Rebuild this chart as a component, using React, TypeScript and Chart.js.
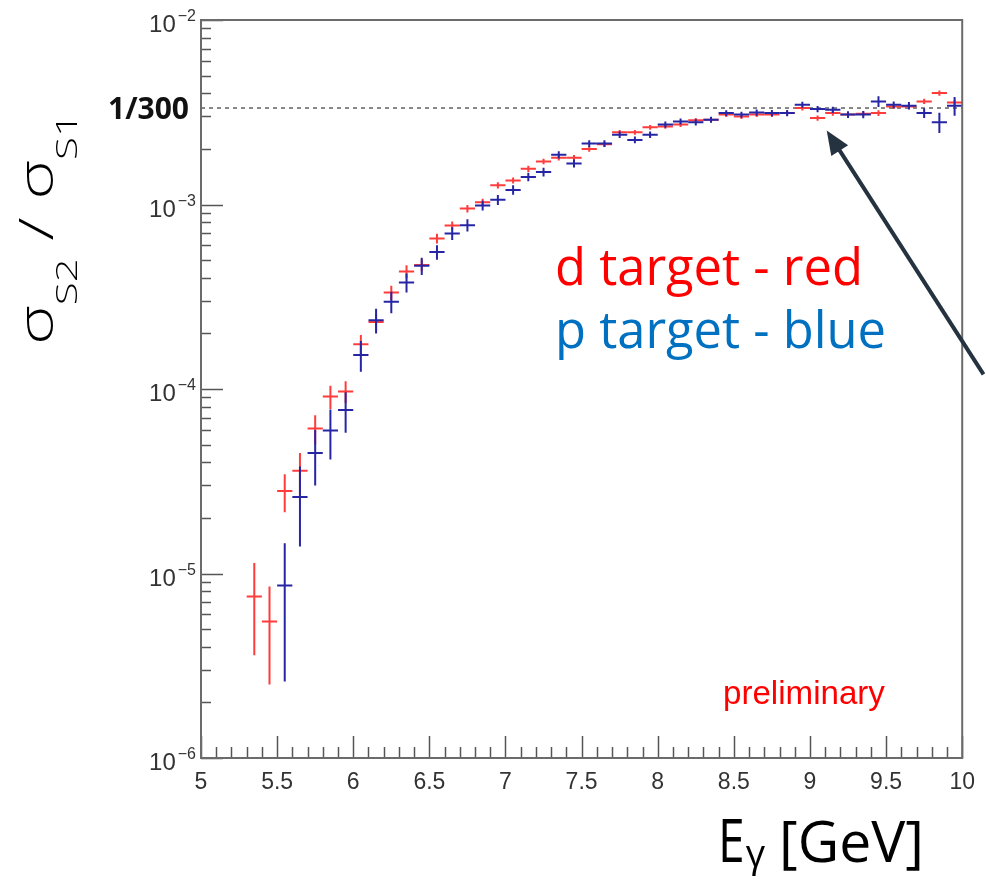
import React, { useEffect, useRef } from "react";
import { Chart, registerables } from "chart.js";

Chart.register(...registerables);

// ---------------- data ----------------
const binCenters = [
  5.35, 5.45, 5.55, 5.65, 5.75, 5.85, 5.95, 6.05, 6.15, 6.25, 6.35, 6.45, 6.55, 6.65, 6.75, 6.85,
  6.95, 7.05, 7.15, 7.25, 7.35, 7.45, 7.55, 7.65, 7.75, 7.85, 7.95, 8.05, 8.15, 8.25, 8.35, 8.45,
  8.55, 8.65, 8.75, 8.85, 8.95, 9.05, 9.15, 9.25, 9.35, 9.45, 9.55, 9.65, 9.75, 9.85, 9.95,
];
const binHalfWidth = 0.05;

const dTargetRatio = [
  7.5e-6, 5.5e-6, 2.8e-5, 3.6e-5, 6.1e-5, 9.1e-5, 9.7e-5, 1.75e-4, 2.31e-4, 3.33e-4, 4.33e-4, 4.7e-4,
  6.55e-4, 7.7e-4, 9.5e-4, 1.03e-3, 1.27e-3, 1.35e-3, 1.56e-3, 1.71e-3, 1.79e-3, 1.79e-3, 2.0e-3,
  2.12e-3, 2.46e-3, 2.46e-3, 2.62e-3, 2.65e-3, 2.71e-3, 2.86e-3, 2.88e-3, 3.07e-3, 3.0e-3, 3.07e-3,
  3.07e-3, 3.13e-3, 3.33e-3, 2.94e-3, 3.13e-3, 3.07e-3, 3.1e-3, 3.13e-3, 3.4e-3, 3.4e-3, 3.62e-3,
  4.02e-3, 3.57e-3,
];
const dTargetError = [
  3.9e-6, 3.0e-6, 6.5e-6, 9e-6, 1.1e-5, 1.3e-5, 1.3e-5, 2.1e-5, 2.5e-5, 3e-5, 3.5e-5, 3.5e-5, 4e-5,
  4e-5, 4.5e-5, 4.5e-5, 5e-5, 5e-5, 6e-5, 6e-5, 6e-5, 6.5e-5, 7e-5, 7e-5, 7.5e-5, 7.5e-5, 8e-5, 8e-5,
  8e-5, 8.5e-5, 8.5e-5, 9e-5, 9e-5, 9e-5, 9e-5, 9.5e-5, 1e-4, 1e-4, 1e-4, 1e-4, 1.05e-4, 1.1e-4,
  1.1e-4, 1.15e-4, 1.2e-4, 1.3e-4, 1.3e-4,
];
const pTargetRatio = [
  null, null, 8.6e-6, 2.6e-5, 4.5e-5, 5.95e-5, 7.7e-5, 1.53e-4, 2.36e-4, 2.97e-4, 3.78e-4, 4.65e-4,
  5.52e-4, 6.97e-4, 7.73e-4, 9.88e-4, 1.06e-3, 1.2e-3, 1.41e-3, 1.5e-3, 1.86e-3, 1.67e-3, 2.14e-3,
  2.14e-3, 2.39e-3, 2.24e-3, 2.39e-3, 2.71e-3, 2.82e-3, 2.79e-3, 2.88e-3, 3.13e-3, 3.07e-3, 3.15e-3,
  3.13e-3, 3.13e-3, 3.47e-3, 3.29e-3, 3.26e-3, 3.07e-3, 3.07e-3, 3.62e-3, 3.47e-3, 3.43e-3, 3.13e-3,
  2.79e-3, 3.43e-3,
];
const pTargetError = [
  null, null, 6e-6, 1.2e-5, 1.5e-5, 1.8e-5, 1.9e-5, 2.9e-5, 3.6e-5, 4e-5, 4.5e-5, 5e-5, 5e-5, 5.5e-5,
  6e-5, 6e-5, 6.5e-5, 7e-5, 7.5e-5, 8e-5, 8.5e-5, 8.5e-5, 9e-5, 9e-5, 9.5e-5, 9.5e-5, 1e-4, 1.05e-4,
  1.05e-4, 1.1e-4, 1.1e-4, 1.15e-4, 1.15e-4, 1.2e-4, 1.2e-4, 1.2e-4, 1.3e-4, 1.3e-4, 1.3e-4, 1.3e-4,
  1.4e-4, 2.4e-4, 1.5e-4, 1.6e-4, 1.9e-4, 3.5e-4, 4e-4,
];

const xMin = 5;
const xMax = 10;
const xMajorStep = 0.5;
const xMinorStep = 0.1;
const xTickLabels = ["5", "5.5", "6", "6.5", "7", "7.5", "8", "8.5", "9", "9.5", "10"];

const yMin = 1e-6;
const yMax = 1e-2;
const yDecadeValues = [1e-6, 1e-5, 1e-4, 1e-3, 1e-2];
const yDecadeExponents = ["\u22126", "\u22125", "\u22124", "\u22123", "\u22122"];
const yMinorMultipliers = [2, 3, 4, 5, 6, 7, 8, 9];

const refValue = 1 / 300;
const refLabel = "1/300";

const arrowTip = { x: 9.11, y: 2.52e-3 };
const arrowTail = { x: 10.14, y: 1.2e-4 };

const legendD = "d target - red";
const legendP = "p target - blue";
const prelimText = "preliminary";

const dColor = "rgb(255,60,60)";
const pColor = "rgb(38,38,165)";

// ---------------- helpers ----------------
function fitSize(ctx: CanvasRenderingContext2D, text: string, family: string, weight: string, target: number) {
  ctx.font = `${weight} 100px ${family}`;
  const w = ctx.measureText(text).width;
  return (100 * target) / w;
}

const decorPlugin = {
  id: "decor",
  beforeDatasetsDraw(chart: any) {
    const { ctx, chartArea, scales } = chart;
    const yPx = scales.y.getPixelForValue(refValue);
    ctx.save();
    ctx.strokeStyle = "#6a6a6a";
    ctx.lineWidth = 1.6;
    ctx.setLineDash([4, 4]);
    ctx.beginPath();
    ctx.moveTo(chartArea.left, yPx);
    ctx.lineTo(chartArea.right, yPx);
    ctx.stroke();
    ctx.restore();
  },
  afterDatasetDraw(chart: any, args: any) {
    const { ctx, scales, chartArea } = chart;
    const ds: any = chart.data.datasets[args.index];
    ctx.save();
    ctx.beginPath();
    ctx.rect(chartArea.left, chartArea.top, chartArea.right - chartArea.left, chartArea.bottom - chartArea.top);
    ctx.clip();
    ctx.strokeStyle = ds.borderColor;
    ctx.lineWidth = 2;
    args.meta.data.forEach((el: any, i: number) => {
      const raw = ds.data[i];
      const top = scales.y.getPixelForValue(raw.y + raw.err);
      const bot = scales.y.getPixelForValue(Math.max(raw.y - raw.err, yMin * 0.5));
      ctx.beginPath();
      ctx.moveTo(el.x, top);
      ctx.lineTo(el.x, bot);
      ctx.stroke();
    });
    ctx.restore();
  },
  afterDraw(chart: any) {
    const { ctx, chartArea, scales } = chart;
    const { left, right, top, bottom } = chartArea;
    const xs = scales.x;
    const ys = scales.y;
    ctx.save();

    // ticks
    ctx.strokeStyle = "#555";
    ctx.lineWidth = 1.5;
    const nX = Math.round((xMax - xMin) / xMinorStep);
    for (let k = 0; k <= nX; k++) {
      const v = xMin + k * xMinorStep;
      const px = Math.round(xs.getPixelForValue(v)) + 0.5;
      const major = Math.abs(v / xMajorStep - Math.round(v / xMajorStep)) < 1e-6;
      const len = major ? 22 : 11;
      ctx.beginPath();
      ctx.moveTo(px, bottom);
      ctx.lineTo(px, bottom - len);
      ctx.stroke();
    }
    yDecadeValues.forEach((dv, i) => {
      const py = Math.round(ys.getPixelForValue(dv)) + 0.5;
      ctx.beginPath();
      ctx.moveTo(left, py);
      ctx.lineTo(left + 22, py);
      ctx.stroke();
      if (i < yDecadeValues.length - 1) {
        yMinorMultipliers.forEach((m) => {
          const my = Math.round(ys.getPixelForValue(dv * m)) + 0.5;
          ctx.beginPath();
          ctx.moveTo(left, my);
          ctx.lineTo(left + 10, my);
          ctx.stroke();
        });
      }
    });

    // frame
    ctx.strokeStyle = "#6b6b6b";
    ctx.lineWidth = 2;
    ctx.strokeRect(left, top, right - left, bottom - top);

    // y decade labels
    ctx.fillStyle = "#333";
    ctx.textBaseline = "alphabetic";
    yDecadeValues.forEach((dv, i) => {
      const py = ys.getPixelForValue(dv);
      ctx.font = '16px "Liberation Sans"';
      const supW = ctx.measureText(yDecadeExponents[i]).width;
      ctx.font = '24px "Liberation Sans"';
      const baseW = ctx.measureText("10").width;
      const xEnd = left - 5;
      ctx.textAlign = "left";
      ctx.fillText("10", xEnd - supW - baseW - 2, py + 12);
      ctx.font = '16px "Liberation Sans"';
      ctx.fillText(yDecadeExponents[i], xEnd - supW, py + 1);
    });

    // 1/300 label
    const ry = ys.getPixelForValue(refValue);
    ctx.font = 'bold 30px "Open Sans"';
    ctx.fillStyle = "#111";
    ctx.textAlign = "right";
    ctx.fillText(refLabel, left - 12, ry + 11);

    // legend texts
    ctx.textAlign = "left";
    const legSize = fitSize(ctx, legendD, '"Open Sans"', "normal", 308);
    ctx.font = `${legSize}px "Open Sans"`;
    ctx.fillStyle = "#ff0000";
    ctx.fillText(legendD, 555, 285);
    ctx.fillStyle = "#0070c0";
    ctx.fillText(legendP, 555, 348);

    // preliminary
    const prSize = fitSize(ctx, prelimText, '"Liberation Sans"', "normal", 162);
    ctx.font = `${prSize}px "Liberation Sans"`;
    ctx.fillStyle = "#ff0000";
    ctx.fillText(prelimText, 723, 704);

    // arrow
    const tx = xs.getPixelForValue(arrowTip.x);
    const ty = ys.getPixelForValue(arrowTip.y);
    const sx = xs.getPixelForValue(arrowTail.x);
    const sy = ys.getPixelForValue(arrowTail.y);
    const dx = tx - sx;
    const dy = ty - sy;
    const L = Math.hypot(dx, dy);
    const ux = dx / L;
    const uy = dy / L;
    const headLen = 24;
    const headHalf = 10;
    const bx = tx - ux * headLen;
    const by = ty - uy * headLen;
    ctx.strokeStyle = "#253240";
    ctx.fillStyle = "#253240";
    ctx.lineWidth = 4;
    ctx.beginPath();
    ctx.moveTo(sx, sy);
    ctx.lineTo(bx + ux * 2, by + uy * 2);
    ctx.stroke();
    ctx.beginPath();
    ctx.moveTo(tx, ty);
    ctx.lineTo(bx - uy * headHalf, by + ux * headHalf);
    ctx.lineTo(bx + uy * headHalf, by - ux * headHalf);
    ctx.closePath();
    ctx.fill();

    // x title
    ctx.fillStyle = "#000";
    ctx.save();
    ctx.translate(718, 862);
    ctx.scale(0.8, 1);
    ctx.font = '60px "Open Sans"';
    ctx.fillText("E", 0, 0);
    const eW = ctx.measureText("E").width * 0.8;
    ctx.restore();
    ctx.font = '38px "Open Sans"';
    ctx.fillText("\u03b3", 718 + eW + 1, 867);
    const gSize = fitSize(ctx, "[GeV]", '"Open Sans"', "normal", 145);
    ctx.font = `${gSize}px "Open Sans"`;
    ctx.fillText("[GeV]", 779, 862);

    // y title (rotated)
    const F = 48;
    const parts = [
      { t: "\u03c3", sub: false },
      { t: "S2", sub: true },
      { t: " / ", sub: false },
      { t: "\u03c3", sub: false },
      { t: "S1", sub: true },
    ];
    const fontFor = (sub: boolean) => `300 ${sub ? F * 0.62 : F}px "Open Sans"`;
    let natural = 0;
    parts.forEach((p) => {
      ctx.font = fontFor(p.sub);
      natural += ctx.measureText(p.t).width;
    });
    const stretch = 232 / natural;
    ctx.save();
    ctx.translate(53, 345);
    ctx.rotate(-Math.PI / 2);
    ctx.scale(stretch, 1);
    let cx = 0;
    parts.forEach((p) => {
      ctx.font = fontFor(p.sub);
      ctx.fillText(p.t, cx, p.sub ? 24 : 0);
      cx += ctx.measureText(p.t).width;
    });
    ctx.restore();

    ctx.restore();
  },
};

function buildPoints(values: (number | null)[], errors: (number | null)[]) {
  const pts: { x: number; y: number; err: number }[] = [];
  binCenters.forEach((x, i) => {
    const v = values[i];
    const e = errors[i];
    if (v != null && e != null) pts.push({ x, y: v, err: e });
  });
  return pts;
}

export default function App() {
  const ref = useRef<HTMLCanvasElement | null>(null);
  useEffect(() => {
    if (!ref.current) return;
    const halfWidthPx = (ctx: any) => {
      const xs = ctx.chart.scales.x;
      if (!xs) return 7;
      return Math.abs(xs.getPixelForValue(xMin + binHalfWidth) - xs.getPixelForValue(xMin));
    };
    const chart = new Chart(ref.current, {
      type: "scatter",
      data: {
        datasets: [
          {
            label: "p target",
            data: buildPoints(pTargetRatio, pTargetError),
            borderColor: pColor,
            backgroundColor: pColor,
            pointStyle: "line",
            pointRadius: halfWidthPx,
            pointBorderWidth: 2,
            borderWidth: 2,
          } as any,
          {
            label: "d target",
            data: buildPoints(dTargetRatio, dTargetError),
            borderColor: dColor,
            backgroundColor: dColor,
            pointStyle: "line",
            pointRadius: halfWidthPx,
            pointBorderWidth: 2,
            borderWidth: 2,
          } as any,
        ],
      },
      options: {
        responsive: false,
        animation: false,
        devicePixelRatio: 1,
        events: [],
        layout: { padding: { top: 20, right: 16, left: 0, bottom: 0 } },
        plugins: { legend: { display: false }, tooltip: { enabled: false } },
        scales: {
          x: {
            type: "linear",
            min: xMin,
            max: xMax,
            grid: { display: false, drawTicks: false },
            border: { display: false },
            ticks: {
              stepSize: xMajorStep,
              autoSkip: false,
              maxRotation: 0,
              padding: 11,
              color: "#333",
              font: { family: "Liberation Sans", size: 23 },
              callback: (_v: any, i: number) => xTickLabels[i] ?? "",
            },
            afterFit: (s: any) => {
              s.height = 122;
            },
          },
          y: {
            type: "logarithmic",
            min: yMin,
            max: yMax,
            grid: { display: false },
            border: { display: false },
            ticks: { display: false },
            afterFit: (s: any) => {
              s.width = 201;
            },
          },
        },
      } as any,
      plugins: [decorPlugin as any],
    });
    return () => chart.destroy();
  }, []);
  return (
    <div style={{ position: "absolute", left: 0, top: 0, width: 986, height: 880, background: "#fff" }}>
      <canvas ref={ref} width={986} height={880} style={{ width: 986, height: 880, display: "block" }} />
    </div>
  );
}
